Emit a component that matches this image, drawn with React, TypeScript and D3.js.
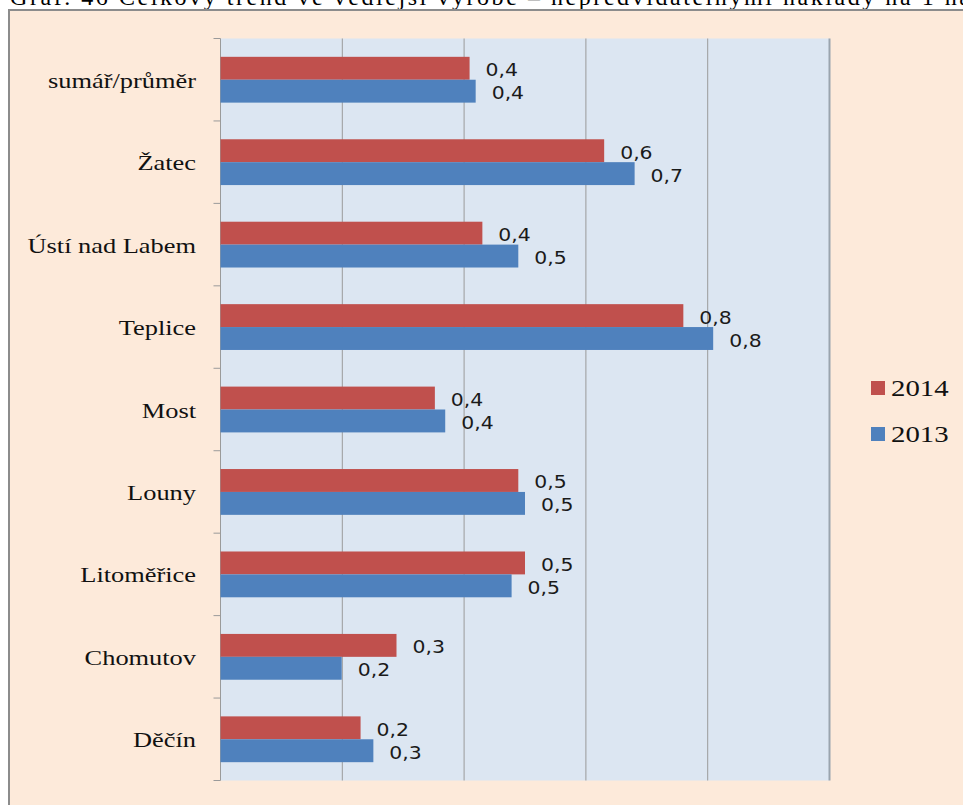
import * as d3 from "d3";

const categories = [
  "sumář/průměr",
  "Žatec",
  "Ústí nad Labem",
  "Teplice",
  "Most",
  "Louny",
  "Litoměřice",
  "Chomutov",
  "Děčín",
];
const values2014 = [0.409, 0.63, 0.43, 0.76, 0.352, 0.489, 0.5, 0.289, 0.23];
const values2013 = [0.419, 0.68, 0.489, 0.809, 0.369, 0.5, 0.478, 0.199, 0.251];
const seriesNames = ["2014", "2013"];
const xTicks = [0, 0.2, 0.4, 0.6, 0.8, 1];

const RED = "#C0504D";
const BLUE = "#4F81BD";
const SX = 1.2; // the source picture is stretched sideways

const App = () => {
  const width = 963;
  const height = 805;
  const plot = { left: 220.5, right: 829.5, top: 38.5, bottom: 780.5 };

  const x = d3.scaleLinear().domain([0, 1]).range([plot.left, plot.right]);
  const y = d3
    .scaleBand<string>()
    .domain(categories)
    .range([plot.top, plot.bottom])
    .padding(0);
  const inner = d3
    .scaleBand<string>()
    .domain(seriesNames)
    .range([0, y.bandwidth()])
    .paddingInner(0)
    .paddingOuter(0.8);
  const fmt = (v: number) => d3.format(".1f")(v).replace(".", ",");
  const color = d3.scaleOrdinal<string>().domain(seriesNames).range([RED, BLUE]);

  const series = [
    { name: "2014", values: values2014 },
    { name: "2013", values: values2013 },
  ];
  const boundaries = categories.map((c) => y(c)!).concat([plot.bottom]);

  return (
    <svg
      width={width}
      height={height}
      style={{ position: "absolute", left: 0, top: 0 }}
    >
      <text
        x={10}
        y={5}
        fontFamily="Liberation Serif"
        fontSize={24}
        fill="#000"
        textLength={960}
      >
        Graf. 46 Celkový trend ve vedlejší výrobě – nepředvídatelnými náklady na 1 ha
      </text>
      <rect x={9} y={10} width={width} height={height} fill="#FDEADA" stroke="#8c8c8c" strokeWidth={2} />

      <rect
        x={plot.left}
        y={plot.top}
        width={plot.right - plot.left}
        height={plot.bottom - plot.top}
        fill="#DCE6F2"
      />
      {xTicks.map((t) => (
        <line
          key={t}
          x1={x(t)}
          x2={x(t)}
          y1={plot.top}
          y2={plot.bottom}
          stroke={t === 1 ? "#9aa4ae" : "#9a9a9a"}
          strokeWidth={t === 1 ? 2 : 1}
        />
      ))}
      {boundaries.map((b, i) => (
        <line key={i} x1={plot.left - 7} x2={plot.left} y1={b} y2={b} stroke="#9a9a9a" />
      ))}

      {series.map((s) =>
        s.values.map((v, i) => {
          const by = y(categories[i])! + inner(s.name)!;
          const bh = inner.bandwidth();
          return (
            <g key={s.name + i}>
              <rect x={x(0)} y={by} width={x(v) - x(0)} height={bh} fill={color(s.name)} />
              <text
                transform={`translate(${x(v) + 16},${by + bh / 2 + 8}) scale(${SX},1)`}
                fontFamily="DejaVu Sans"
                fontSize={17}
                fill="#1a1a1a"
              >
                {fmt(v)}
              </text>
            </g>
          );
        })
      )}

      {categories.map((c) => (
        <text
          key={c}
          transform={`translate(196,${y(c)! + y.bandwidth() / 2 + 8}) scale(${SX},1)`}
          textAnchor="end"
          fontFamily="Liberation Serif"
          fontSize={22}
          fill="#111"
        >
          {c}
        </text>
      ))}

      {seriesNames.map((n, i) => (
        <g key={n} transform={`translate(871,${381 + i * 46})`}>
          <rect width={14} height={14} fill={color(n)} />
          <text
            transform={`translate(20,15) scale(${SX},1)`}
            fontFamily="Liberation Serif"
            fontSize={24}
            fill="#111"
          >
            {n}
          </text>
        </g>
      ))}
    </svg>
  );
};

export default App;
